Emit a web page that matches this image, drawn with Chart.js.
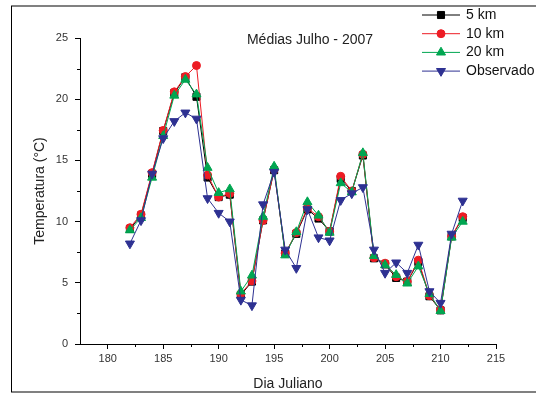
<!DOCTYPE html>
<html><head><meta charset="utf-8">
<script src="https://cdn.jsdelivr.net/npm/chart.js@4.4.1/dist/chart.umd.min.js"></script>
<style>html,body{margin:0;padding:0;background:#fff}canvas{display:block}</style>
</head><body>
<canvas id="c" width="536" height="394"></canvas>
<script>
const days = [182,183,184,185,186,187,188,189,190,191,192,193,194,195,196,197,198,199,200,201,202,203,204,205,206,207,208,209,210,211,212];
const km5 = [9.4,10.5,13.9,17.4,20.5,21.8,20.2,13.6,12.0,12.2,4.0,5.1,10.1,14.2,7.4,9.0,11.0,10.25,9.2,13.5,12.5,15.4,7.0,6.5,5.4,5.1,6.7,3.9,2.75,8.8,10.3];
const km10 = [9.5,10.6,14.0,17.45,20.6,21.85,22.75,13.8,12.0,12.3,4.1,5.15,10.1,14.25,7.4,9.1,11.1,10.4,9.2,13.7,12.5,15.5,7.05,6.6,5.5,5.1,6.85,3.95,2.8,8.8,10.4];
const km20 = [9.3,10.3,13.6,17.0,20.3,21.6,20.4,14.4,12.35,12.65,4.3,5.6,10.4,14.5,7.25,9.15,11.6,10.5,9.1,13.15,12.4,15.6,7.2,6.45,5.65,4.95,6.35,4.1,2.7,8.7,10.0];
const observado = [8.2,10.1,13.9,16.8,18.2,18.9,18.4,11.9,10.7,10.0,3.6,3.15,11.4,14.05,7.7,6.2,11.0,8.7,8.45,11.75,12.3,12.8,7.7,5.8,6.65,5.8,8.1,4.3,3.35,9.0,11.7];
const seriesNames = ['5 km','10 km','20 km','Observado'];
const xTicks = [180,185,190,195,200,205,210,215];
const xMinorTicks = [182.5,187.5,192.5,197.5,202.5,207.5,212.5];
const yTicks = [0,5,10,15,20,25];
const yMinorTicks = [2.5,7.5,12.5,17.5,22.5];
const chartTitle = 'Médias Julho - 2007';

const FONT = "'Liberation Sans', Arial, sans-serif";
const seriesData = [km5, km10, km20, observado];
const colors = ['#000000','#ed1c24','#00a651','#2e3192'];
const styles = ['rect','circle','triangle','triangle'];
const radii = [5,4,5.2,5.2];
const rotations = [0,0,0,180];

const datasets = seriesData.map((arr, i) => ({
  label: seriesNames[i],
  data: days.map((d, j) => ({x: d, y: arr[j]})),
  borderColor: colors[i],
  backgroundColor: colors[i],
  borderWidth: 1,
  pointStyle: styles[i],
  pointRadius: radii[i],
  pointRotation: rotations[i],
  pointBorderWidth: 1,
  pointBackgroundColor: colors[i],
  pointBorderColor: colors[i],
  tension: 0,
  order: 4 - i
}));

const decor = {
  id: 'decor',
  beforeDraw(chart) {
    const ctx = chart.ctx;
    ctx.save();
    ctx.fillStyle = '#fff';
    ctx.fillRect(0, 0, chart.width, chart.height);
    ctx.strokeStyle = '#808080';
    ctx.lineWidth = 2;
    ctx.beginPath(); ctx.moveTo(11, 6); ctx.lineTo(536, 6); ctx.stroke();
    ctx.beginPath(); ctx.moveTo(11, 392); ctx.lineTo(536, 392); ctx.stroke();
    ctx.strokeStyle = '#000';
    ctx.lineWidth = 1;
    ctx.beginPath(); ctx.moveTo(11.5, 6); ctx.lineTo(11.5, 392); ctx.stroke();
    ctx.restore();
  },
  afterDraw(chart) {
    const ctx = chart.ctx;
    const xs = chart.scales.x, ys = chart.scales.y;
    ctx.save();
    ctx.strokeStyle = '#000';
    ctx.lineWidth = 1;
    xMinorTicks.forEach(v => {
      const px = Math.round(xs.getPixelForValue(v)) + 0.5;
      ctx.beginPath(); ctx.moveTo(px, chart.chartArea.bottom); ctx.lineTo(px, chart.chartArea.bottom + 3); ctx.stroke();
    });
    yMinorTicks.forEach(v => {
      const py = Math.round(ys.getPixelForValue(v)) + 0.5;
      ctx.beginPath(); ctx.moveTo(chart.chartArea.left, py); ctx.lineTo(chart.chartArea.left - 3, py); ctx.stroke();
    });
    // title
    ctx.fillStyle = '#222';
    ctx.font = '14px ' + FONT;
    ctx.textAlign = 'center';
    ctx.textBaseline = 'middle';
    ctx.fillText(chartTitle, 310, 40);
    // legend
    chart.data.datasets.forEach((ds, i) => {
      const y = 15 + i * 18.7;
      ctx.strokeStyle = ds.borderColor;
      ctx.lineWidth = 1;
      ctx.beginPath(); ctx.moveTo(422, y); ctx.lineTo(460, y); ctx.stroke();
      ctx.fillStyle = ds.backgroundColor;
      Chart.helpers.drawPoint(ctx, {pointStyle: ds.pointStyle, radius: ds.pointRadius, rotation: ds.pointRotation, borderWidth: 1}, 441, y);
      ctx.fillStyle = '#111';
      ctx.font = '14px ' + FONT;
      ctx.textAlign = 'left';
      ctx.textBaseline = 'middle';
      ctx.fillText(ds.label, 466, y);
    });
    ctx.restore();
  }
};

new Chart(document.getElementById('c'), {
  type: 'line',
  data: { datasets },
  plugins: [decor],
  options: {
    responsive: false,
    devicePixelRatio: 1,
    animation: false,
    layout: { padding: { top: 38, right: 40, left: 0, bottom: 0 } },
    plugins: { legend: { display: false }, tooltip: { enabled: false }, title: { display: false } },
    scales: {
      x: {
        type: 'linear', min: 177.5, max: 215,
        afterBuildTicks: s => { s.ticks = xTicks.map(v => ({value: v})); },
        afterFit: s => { s.height = 50; },
        grid: { display: true, drawOnChartArea: false, drawTicks: true, tickLength: 5, color: '#000', tickColor: '#000', lineWidth: 1 },
        border: { display: true, color: '#000', width: 1 },
        ticks: { font: { family: FONT, size: 11 }, color: '#333', padding: 3, maxRotation: 0, autoSkip: false, callback: v => String(v) },
        title: { display: true, text: 'Dia Juliano', font: { family: FONT, size: 14 }, color: '#222', padding: { top: 0, bottom: 1 } }
      },
      y: {
        type: 'linear', min: 0, max: 25,
        afterBuildTicks: s => { s.ticks = yTicks.map(v => ({value: v})); },
        afterFit: s => { s.width = 80; },
        grid: { display: true, drawOnChartArea: false, drawTicks: true, tickLength: 5, color: '#000', tickColor: '#000', lineWidth: 1 },
        border: { display: true, color: '#000', width: 1 },
        ticks: { font: { family: FONT, size: 11 }, color: '#333', padding: 7, autoSkip: false, callback: v => String(v) },
        title: { display: true, text: 'Temperatura (°C)', font: { family: FONT, size: 14 }, color: '#222', padding: { top: 32, bottom: 0 } }
      }
    }
  }
});
</script>
</body></html>
